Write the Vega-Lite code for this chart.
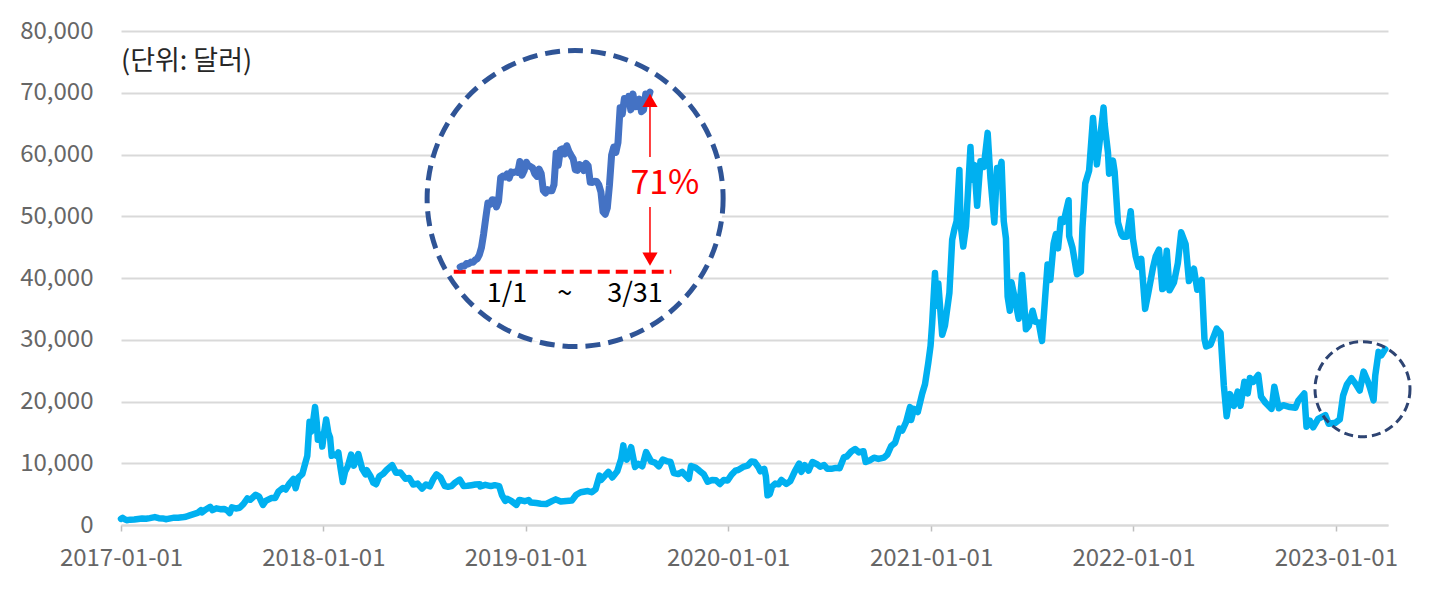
{
  "$schema": "https://vega.github.io/schema/vega-lite/v6.json",
  "width": 1267,
  "height": 494,
  "autosize": "none",
  "padding": {"left": 121, "top": 31, "right": 47, "bottom": 91},
  "background": "white",
  "config": {
    "view": {"stroke": null},
    "font": "Noto Sans CJK KR",
    "axis": {"labelFont": "Noto Sans CJK KR"},
    "text": {"font": "Noto Sans CJK KR"}
  },
  "datasets": {
    "btc": [
      {"date": "2017-01-01", "price": 998}, {"date": "2017-01-04", "price": 1150}, {"date": "2017-01-08", "price": 910},
      {"date": "2017-01-11", "price": 780}, {"date": "2017-01-18", "price": 870}, {"date": "2017-01-25", "price": 895},
      {"date": "2017-02-01", "price": 985}, {"date": "2017-02-08", "price": 1060}, {"date": "2017-02-15", "price": 1010},
      {"date": "2017-02-22", "price": 1120}, {"date": "2017-03-03", "price": 1280}, {"date": "2017-03-10", "price": 1110},
      {"date": "2017-03-17", "price": 1070}, {"date": "2017-03-24", "price": 940}, {"date": "2017-03-31", "price": 1080},
      {"date": "2017-04-07", "price": 1190}, {"date": "2017-04-14", "price": 1180}, {"date": "2017-04-21", "price": 1240},
      {"date": "2017-04-28", "price": 1340}, {"date": "2017-05-05", "price": 1550}, {"date": "2017-05-12", "price": 1750},
      {"date": "2017-05-19", "price": 1960}, {"date": "2017-05-25", "price": 2400}, {"date": "2017-05-27", "price": 2050},
      {"date": "2017-06-03", "price": 2520}, {"date": "2017-06-11", "price": 2950}, {"date": "2017-06-15", "price": 2400},
      {"date": "2017-06-22", "price": 2700}, {"date": "2017-06-29", "price": 2560}, {"date": "2017-07-06", "price": 2600},
      {"date": "2017-07-12", "price": 2330}, {"date": "2017-07-16", "price": 1930}, {"date": "2017-07-20", "price": 2850},
      {"date": "2017-07-27", "price": 2680}, {"date": "2017-08-03", "price": 2800}, {"date": "2017-08-10", "price": 3420},
      {"date": "2017-08-17", "price": 4300}, {"date": "2017-08-22", "price": 4080}, {"date": "2017-09-01", "price": 4900},
      {"date": "2017-09-07", "price": 4600}, {"date": "2017-09-14", "price": 3240}, {"date": "2017-09-19", "price": 3900},
      {"date": "2017-09-29", "price": 4360}, {"date": "2017-10-06", "price": 4370}, {"date": "2017-10-12", "price": 5430},
      {"date": "2017-10-20", "price": 6000}, {"date": "2017-10-25", "price": 5750}, {"date": "2017-11-01", "price": 6750},
      {"date": "2017-11-08", "price": 7450}, {"date": "2017-11-12", "price": 5950}, {"date": "2017-11-17", "price": 7700},
      {"date": "2017-11-24", "price": 8250}, {"date": "2017-11-29", "price": 9900}, {"date": "2017-12-03", "price": 11200},
      {"date": "2017-12-07", "price": 16700}, {"date": "2017-12-10", "price": 15100}, {"date": "2017-12-13", "price": 16500},
      {"date": "2017-12-17", "price": 19100}, {"date": "2017-12-20", "price": 16600}, {"date": "2017-12-22", "price": 13800},
      {"date": "2017-12-25", "price": 13900}, {"date": "2017-12-28", "price": 14600}, {"date": "2017-12-30", "price": 12700},
      {"date": "2018-01-02", "price": 14800}, {"date": "2018-01-06", "price": 17100}, {"date": "2018-01-10", "price": 14900},
      {"date": "2018-01-13", "price": 14200}, {"date": "2018-01-16", "price": 11200}, {"date": "2018-01-19", "price": 11500},
      {"date": "2018-01-25", "price": 11200}, {"date": "2018-01-28", "price": 11750}, {"date": "2018-02-01", "price": 9170},
      {"date": "2018-02-05", "price": 6950}, {"date": "2018-02-09", "price": 8600}, {"date": "2018-02-14", "price": 9500},
      {"date": "2018-02-20", "price": 11400}, {"date": "2018-02-25", "price": 9600}, {"date": "2018-03-05", "price": 11500},
      {"date": "2018-03-12", "price": 9100}, {"date": "2018-03-18", "price": 8200}, {"date": "2018-03-20", "price": 8900},
      {"date": "2018-03-27", "price": 7900}, {"date": "2018-04-01", "price": 6850}, {"date": "2018-04-06", "price": 6600},
      {"date": "2018-04-12", "price": 7900}, {"date": "2018-04-19", "price": 8300}, {"date": "2018-04-25", "price": 8900},
      {"date": "2018-05-05", "price": 9700}, {"date": "2018-05-12", "price": 8450}, {"date": "2018-05-20", "price": 8500},
      {"date": "2018-05-29", "price": 7500}, {"date": "2018-06-05", "price": 7600}, {"date": "2018-06-12", "price": 6550},
      {"date": "2018-06-20", "price": 6700}, {"date": "2018-06-28", "price": 5900}, {"date": "2018-07-05", "price": 6550},
      {"date": "2018-07-12", "price": 6250}, {"date": "2018-07-18", "price": 7400}, {"date": "2018-07-24", "price": 8200},
      {"date": "2018-07-31", "price": 7730}, {"date": "2018-08-08", "price": 6300}, {"date": "2018-08-14", "price": 6200},
      {"date": "2018-08-20", "price": 6300}, {"date": "2018-08-27", "price": 6900}, {"date": "2018-09-04", "price": 7350},
      {"date": "2018-09-11", "price": 6300}, {"date": "2018-09-18", "price": 6350}, {"date": "2018-09-25", "price": 6450},
      {"date": "2018-10-02", "price": 6550}, {"date": "2018-10-10", "price": 6600}, {"date": "2018-10-11", "price": 6250},
      {"date": "2018-10-20", "price": 6500}, {"date": "2018-10-30", "price": 6300}, {"date": "2018-11-06", "price": 6450},
      {"date": "2018-11-14", "price": 6300}, {"date": "2018-11-19", "price": 4850}, {"date": "2018-11-25", "price": 3900},
      {"date": "2018-11-28", "price": 4250}, {"date": "2018-12-05", "price": 3950}, {"date": "2018-12-15", "price": 3250},
      {"date": "2018-12-20", "price": 4050}, {"date": "2018-12-24", "price": 4000}, {"date": "2018-12-30", "price": 3850},
      {"date": "2019-01-06", "price": 4050}, {"date": "2019-01-10", "price": 3650}, {"date": "2019-01-20", "price": 3550},
      {"date": "2019-01-28", "price": 3450}, {"date": "2019-02-07", "price": 3400}, {"date": "2019-02-18", "price": 3900},
      {"date": "2019-02-24", "price": 4150}, {"date": "2019-03-05", "price": 3800}, {"date": "2019-03-15", "price": 3900},
      {"date": "2019-03-25", "price": 3950}, {"date": "2019-04-02", "price": 4900}, {"date": "2019-04-10", "price": 5300},
      {"date": "2019-04-23", "price": 5500}, {"date": "2019-04-30", "price": 5300}, {"date": "2019-05-07", "price": 5800},
      {"date": "2019-05-14", "price": 8000}, {"date": "2019-05-17", "price": 7300}, {"date": "2019-05-30", "price": 8600},
      {"date": "2019-06-06", "price": 7700}, {"date": "2019-06-15", "price": 8700}, {"date": "2019-06-22", "price": 10700},
      {"date": "2019-06-26", "price": 12900}, {"date": "2019-06-28", "price": 11000}, {"date": "2019-07-02", "price": 10600},
      {"date": "2019-07-10", "price": 12600}, {"date": "2019-07-17", "price": 9400}, {"date": "2019-07-23", "price": 9900},
      {"date": "2019-07-30", "price": 9500}, {"date": "2019-08-06", "price": 11800}, {"date": "2019-08-15", "price": 10300},
      {"date": "2019-08-22", "price": 10100}, {"date": "2019-08-29", "price": 9500}, {"date": "2019-09-05", "price": 10600},
      {"date": "2019-09-12", "price": 10350}, {"date": "2019-09-19", "price": 10200}, {"date": "2019-09-25", "price": 8400},
      {"date": "2019-10-03", "price": 8250}, {"date": "2019-10-10", "price": 8600}, {"date": "2019-10-22", "price": 7500},
      {"date": "2019-10-26", "price": 9550}, {"date": "2019-11-03", "price": 9300}, {"date": "2019-11-10", "price": 8800},
      {"date": "2019-11-18", "price": 8200}, {"date": "2019-11-25", "price": 7000}, {"date": "2019-12-03", "price": 7300},
      {"date": "2019-12-10", "price": 7250}, {"date": "2019-12-17", "price": 6650}, {"date": "2019-12-24", "price": 7300},
      {"date": "2019-12-31", "price": 7200}, {"date": "2020-01-07", "price": 8150}, {"date": "2020-01-14", "price": 8800},
      {"date": "2020-01-19", "price": 8900}, {"date": "2020-01-28", "price": 9400}, {"date": "2020-02-05", "price": 9600},
      {"date": "2020-02-12", "price": 10300}, {"date": "2020-02-18", "price": 10200}, {"date": "2020-02-25", "price": 9300},
      {"date": "2020-02-28", "price": 8700}, {"date": "2020-03-06", "price": 9100}, {"date": "2020-03-09", "price": 7900},
      {"date": "2020-03-12", "price": 4800}, {"date": "2020-03-16", "price": 5000}, {"date": "2020-03-20", "price": 6200},
      {"date": "2020-03-26", "price": 6700}, {"date": "2020-04-01", "price": 6600}, {"date": "2020-04-06", "price": 7300},
      {"date": "2020-04-15", "price": 6650}, {"date": "2020-04-22", "price": 7100}, {"date": "2020-04-30", "price": 8650},
      {"date": "2020-05-08", "price": 9950}, {"date": "2020-05-12", "price": 8600}, {"date": "2020-05-18", "price": 9700},
      {"date": "2020-05-25", "price": 8800}, {"date": "2020-06-01", "price": 10200}, {"date": "2020-06-10", "price": 9800},
      {"date": "2020-06-15", "price": 9450}, {"date": "2020-06-22", "price": 9700}, {"date": "2020-06-28", "price": 9100},
      {"date": "2020-07-05", "price": 9100}, {"date": "2020-07-13", "price": 9250}, {"date": "2020-07-20", "price": 9200},
      {"date": "2020-07-28", "price": 11000}, {"date": "2020-08-02", "price": 11100}, {"date": "2020-08-10", "price": 11900},
      {"date": "2020-08-17", "price": 12300}, {"date": "2020-08-24", "price": 11750}, {"date": "2020-09-01", "price": 11950},
      {"date": "2020-09-05", "price": 10200}, {"date": "2020-09-12", "price": 10450}, {"date": "2020-09-20", "price": 10900},
      {"date": "2020-09-28", "price": 10700}, {"date": "2020-10-08", "price": 10900}, {"date": "2020-10-14", "price": 11400},
      {"date": "2020-10-21", "price": 12800}, {"date": "2020-10-28", "price": 13300}, {"date": "2020-11-05", "price": 15600},
      {"date": "2020-11-10", "price": 15300}, {"date": "2020-11-17", "price": 16700}, {"date": "2020-11-24", "price": 19100},
      {"date": "2020-11-26", "price": 17000}, {"date": "2020-12-01", "price": 18800}, {"date": "2020-12-08", "price": 18300},
      {"date": "2020-12-16", "price": 21300}, {"date": "2020-12-21", "price": 22800}, {"date": "2020-12-27", "price": 26300},
      {"date": "2020-12-31", "price": 29000}, {"date": "2021-01-03", "price": 32800}, {"date": "2021-01-08", "price": 40800},
      {"date": "2021-01-11", "price": 35500}, {"date": "2021-01-14", "price": 39100}, {"date": "2021-01-21", "price": 30800},
      {"date": "2021-01-26", "price": 32300}, {"date": "2021-01-29", "price": 34300}, {"date": "2021-02-03", "price": 37600},
      {"date": "2021-02-08", "price": 46200}, {"date": "2021-02-12", "price": 47900}, {"date": "2021-02-16", "price": 49200},
      {"date": "2021-02-21", "price": 57500}, {"date": "2021-02-23", "price": 48800}, {"date": "2021-02-28", "price": 45100},
      {"date": "2021-03-05", "price": 48400}, {"date": "2021-03-13", "price": 61200}, {"date": "2021-03-16", "price": 55900},
      {"date": "2021-03-20", "price": 58300}, {"date": "2021-03-25", "price": 51700}, {"date": "2021-03-31", "price": 58900},
      {"date": "2021-04-06", "price": 58000}, {"date": "2021-04-13", "price": 63500}, {"date": "2021-04-18", "price": 56200},
      {"date": "2021-04-25", "price": 49000}, {"date": "2021-04-30", "price": 57800}, {"date": "2021-05-03", "price": 56600},
      {"date": "2021-05-08", "price": 58800}, {"date": "2021-05-12", "price": 49200}, {"date": "2021-05-16", "price": 46400},
      {"date": "2021-05-19", "price": 37000}, {"date": "2021-05-23", "price": 34700}, {"date": "2021-05-26", "price": 39300},
      {"date": "2021-06-01", "price": 36700}, {"date": "2021-06-08", "price": 33400}, {"date": "2021-06-14", "price": 40500},
      {"date": "2021-06-18", "price": 35800}, {"date": "2021-06-21", "price": 31700}, {"date": "2021-06-26", "price": 32200},
      {"date": "2021-07-03", "price": 34700}, {"date": "2021-07-08", "price": 32900}, {"date": "2021-07-14", "price": 32800},
      {"date": "2021-07-20", "price": 29800}, {"date": "2021-07-26", "price": 37300}, {"date": "2021-07-30", "price": 42200},
      {"date": "2021-08-04", "price": 39700}, {"date": "2021-08-10", "price": 45600}, {"date": "2021-08-14", "price": 47100},
      {"date": "2021-08-18", "price": 44800}, {"date": "2021-08-23", "price": 49500}, {"date": "2021-08-28", "price": 49100},
      {"date": "2021-09-06", "price": 52600}, {"date": "2021-09-07", "price": 46800}, {"date": "2021-09-13", "price": 44900},
      {"date": "2021-09-21", "price": 40600}, {"date": "2021-09-28", "price": 41000}, {"date": "2021-10-01", "price": 48200},
      {"date": "2021-10-06", "price": 55300}, {"date": "2021-10-13", "price": 57400}, {"date": "2021-10-20", "price": 65900},
      {"date": "2021-10-27", "price": 58400}, {"date": "2021-10-31", "price": 61300}, {"date": "2021-11-08", "price": 67600},
      {"date": "2021-11-10", "price": 64900}, {"date": "2021-11-16", "price": 60300}, {"date": "2021-11-18", "price": 56900},
      {"date": "2021-11-25", "price": 59000}, {"date": "2021-11-28", "price": 57200}, {"date": "2021-12-04", "price": 49000},
      {"date": "2021-12-10", "price": 47100}, {"date": "2021-12-13", "price": 46700}, {"date": "2021-12-20", "price": 46700},
      {"date": "2021-12-27", "price": 50800}, {"date": "2021-12-31", "price": 46300}, {"date": "2022-01-05", "price": 43500},
      {"date": "2022-01-10", "price": 41800}, {"date": "2022-01-15", "price": 43100}, {"date": "2022-01-22", "price": 35000},
      {"date": "2022-01-28", "price": 37700}, {"date": "2022-02-05", "price": 41600}, {"date": "2022-02-10", "price": 43500},
      {"date": "2022-02-16", "price": 44600}, {"date": "2022-02-22", "price": 38200}, {"date": "2022-02-24", "price": 38300},
      {"date": "2022-03-02", "price": 44400}, {"date": "2022-03-07", "price": 38000}, {"date": "2022-03-15", "price": 39300},
      {"date": "2022-03-22", "price": 42400}, {"date": "2022-03-28", "price": 47400}, {"date": "2022-04-05", "price": 45500},
      {"date": "2022-04-11", "price": 39500}, {"date": "2022-04-20", "price": 41500}, {"date": "2022-04-26", "price": 38100},
      {"date": "2022-05-04", "price": 39700}, {"date": "2022-05-09", "price": 30100}, {"date": "2022-05-12", "price": 28900},
      {"date": "2022-05-20", "price": 29200}, {"date": "2022-05-31", "price": 31800}, {"date": "2022-06-07", "price": 31100},
      {"date": "2022-06-13", "price": 22500}, {"date": "2022-06-18", "price": 17600}, {"date": "2022-06-24", "price": 21200},
      {"date": "2022-07-01", "price": 19300}, {"date": "2022-07-08", "price": 21600}, {"date": "2022-07-13", "price": 19300},
      {"date": "2022-07-20", "price": 23200}, {"date": "2022-07-26", "price": 21300}, {"date": "2022-07-30", "price": 23800},
      {"date": "2022-08-05", "price": 23200}, {"date": "2022-08-14", "price": 24300}, {"date": "2022-08-19", "price": 20800},
      {"date": "2022-08-27", "price": 19800}, {"date": "2022-09-07", "price": 18800}, {"date": "2022-09-12", "price": 22400},
      {"date": "2022-09-20", "price": 18900}, {"date": "2022-09-28", "price": 19400}, {"date": "2022-10-10", "price": 19100},
      {"date": "2022-10-20", "price": 19000}, {"date": "2022-10-25", "price": 20100}, {"date": "2022-11-05", "price": 21300},
      {"date": "2022-11-09", "price": 15900}, {"date": "2022-11-15", "price": 16900}, {"date": "2022-11-21", "price": 15800},
      {"date": "2022-11-30", "price": 17200}, {"date": "2022-12-13", "price": 17800}, {"date": "2022-12-19", "price": 16400},
      {"date": "2022-12-31", "price": 16550}, {"date": "2023-01-08", "price": 17090}, {"date": "2023-01-14", "price": 20950},
      {"date": "2023-01-21", "price": 22780}, {"date": "2023-01-29", "price": 23770}, {"date": "2023-02-05", "price": 22940},
      {"date": "2023-02-13", "price": 21780}, {"date": "2023-02-20", "price": 24840}, {"date": "2023-02-28", "price": 23150},
      {"date": "2023-03-03", "price": 22360}, {"date": "2023-03-10", "price": 20190}, {"date": "2023-03-13", "price": 24200},
      {"date": "2023-03-19", "price": 28040}, {"date": "2023-03-24", "price": 27480}, {"date": "2023-03-31", "price": 28480}
    ],
    "q1": [
      {"date": "2023-01-01", "price": 16620}, {"date": "2023-01-02", "price": 16680}, {"date": "2023-01-03", "price": 16680},
      {"date": "2023-01-04", "price": 16860}, {"date": "2023-01-05", "price": 16830}, {"date": "2023-01-06", "price": 16950},
      {"date": "2023-01-07", "price": 16940}, {"date": "2023-01-08", "price": 17090}, {"date": "2023-01-09", "price": 17180},
      {"date": "2023-01-10", "price": 17440}, {"date": "2023-01-11", "price": 17940}, {"date": "2023-01-12", "price": 18850},
      {"date": "2023-01-13", "price": 19930}, {"date": "2023-01-14", "price": 20950}, {"date": "2023-01-15", "price": 20870},
      {"date": "2023-01-16", "price": 21170}, {"date": "2023-01-17", "price": 21160}, {"date": "2023-01-18", "price": 20690},
      {"date": "2023-01-19", "price": 21080}, {"date": "2023-01-20", "price": 22680}, {"date": "2023-01-21", "price": 22780},
      {"date": "2023-01-22", "price": 22710}, {"date": "2023-01-23", "price": 22930}, {"date": "2023-01-24", "price": 22640},
      {"date": "2023-01-25", "price": 23060}, {"date": "2023-01-26", "price": 23010}, {"date": "2023-01-27", "price": 23080},
      {"date": "2023-01-28", "price": 23030}, {"date": "2023-01-29", "price": 23770}, {"date": "2023-01-30", "price": 22840},
      {"date": "2023-01-31", "price": 23140}, {"date": "2023-02-01", "price": 23720}, {"date": "2023-02-02", "price": 23490},
      {"date": "2023-02-03", "price": 23430}, {"date": "2023-02-04", "price": 23330}, {"date": "2023-02-05", "price": 22940},
      {"date": "2023-02-06", "price": 22760}, {"date": "2023-02-07", "price": 23260}, {"date": "2023-02-08", "price": 22960},
      {"date": "2023-02-09", "price": 21800}, {"date": "2023-02-10", "price": 21630}, {"date": "2023-02-11", "price": 21860},
      {"date": "2023-02-12", "price": 21790}, {"date": "2023-02-13", "price": 21780}, {"date": "2023-02-14", "price": 22200},
      {"date": "2023-02-15", "price": 24330}, {"date": "2023-02-16", "price": 23520}, {"date": "2023-02-17", "price": 24570},
      {"date": "2023-02-18", "price": 24630}, {"date": "2023-02-19", "price": 24280}, {"date": "2023-02-20", "price": 24840},
      {"date": "2023-02-21", "price": 24450}, {"date": "2023-02-22", "price": 24190}, {"date": "2023-02-23", "price": 23950},
      {"date": "2023-02-24", "price": 23200}, {"date": "2023-02-25", "price": 23170}, {"date": "2023-02-26", "price": 23560},
      {"date": "2023-02-27", "price": 23490}, {"date": "2023-02-28", "price": 23150}, {"date": "2023-03-01", "price": 23650},
      {"date": "2023-03-02", "price": 23480}, {"date": "2023-03-03", "price": 22360}, {"date": "2023-03-04", "price": 22350},
      {"date": "2023-03-05", "price": 22430}, {"date": "2023-03-06", "price": 22410}, {"date": "2023-03-07", "price": 22200},
      {"date": "2023-03-08", "price": 21710}, {"date": "2023-03-09", "price": 20360}, {"date": "2023-03-10", "price": 20190},
      {"date": "2023-03-11", "price": 20630}, {"date": "2023-03-12", "price": 22160}, {"date": "2023-03-13", "price": 24200},
      {"date": "2023-03-14", "price": 24750}, {"date": "2023-03-15", "price": 24380}, {"date": "2023-03-16", "price": 25060},
      {"date": "2023-03-17", "price": 27420}, {"date": "2023-03-18", "price": 26970}, {"date": "2023-03-19", "price": 28040},
      {"date": "2023-03-20", "price": 27770}, {"date": "2023-03-21", "price": 28180}, {"date": "2023-03-22", "price": 27270},
      {"date": "2023-03-23", "price": 28350}, {"date": "2023-03-24", "price": 27480}, {"date": "2023-03-25", "price": 27490},
      {"date": "2023-03-26", "price": 28000}, {"date": "2023-03-27", "price": 27140}, {"date": "2023-03-28", "price": 27270},
      {"date": "2023-03-29", "price": 28350}, {"date": "2023-03-30", "price": 28030}, {"date": "2023-03-31", "price": 28480}
    ],
    "q1_labels": [
      {"date": "2023-01-23", "price": 14790, "label": "1/1"},
      {"date": "2023-02-19", "price": 14790, "label": "~"},
      {"date": "2023-03-24", "price": 14790, "label": "3/31"}
    ]
  },
  "layer": [
    {
      "layer": [
        {
          "data": {"name": "btc"},
          "mark": {"type": "line", "color": "#00B0F0", "strokeWidth": 6.5, "strokeJoin": "round", "strokeCap": "round"},
          "encoding": {
            "x": {
              "field": "date", "type": "temporal",
              "scale": {"type": "utc", "domain": [{"year": 2017, "month": 1, "date": 1, "utc": true}, {"year": 2023, "month": 4, "date": 5, "utc": true}]},
              "axis": {
                "title": null, "format": "%Y-%m-%d", "grid": false, "labelFlush": false, "labelOverlap": false,
                "values": [
                  {"year": 2017, "month": 1, "date": 1, "utc": true}, {"year": 2018, "month": 1, "date": 1, "utc": true},
                  {"year": 2019, "month": 1, "date": 1, "utc": true}, {"year": 2020, "month": 1, "date": 1, "utc": true},
                  {"year": 2021, "month": 1, "date": 1, "utc": true}, {"year": 2022, "month": 1, "date": 1, "utc": true},
                  {"year": 2023, "month": 1, "date": 1, "utc": true}
                ],
                "domainColor": "#D9D9D9", "domainWidth": 2, "tickColor": "#BFBFBF", "tickSize": 6, "tickWidth": 1.5,
                "labelFontSize": 24, "labelColor": "#666666", "labelPadding": 15
              }
            },
            "y": {
              "field": "price", "type": "quantitative",
              "scale": {"domain": [0, 80000], "nice": false},
              "axis": {
                "title": null, "values": [0, 10000, 20000, 30000, 40000, 50000, 60000, 70000, 80000], "format": ",d",
                "grid": true, "gridColor": "#D9D9D9", "gridWidth": 2, "domain": false, "ticks": false,
                "labelFontSize": 24, "labelColor": "#666666", "labelPadding": 28
              }
            }
          }
        },
        {
          "data": {"values": [{"date": "2023-02-18", "price": 22000}]},
          "mark": {"type": "point", "shape": "circle", "filled": false, "stroke": "#2E4472", "strokeWidth": 3, "strokeDash": [9, 5], "size": 9025, "opacity": 1},
          "encoding": {"x": {"field": "date", "type": "temporal"}, "y": {"field": "price", "type": "quantitative"}}
        },
        {
          "data": {"values": [{"date": "2019-03-31", "price": 52870}]},
          "mark": {"type": "point", "shape": "circle", "filled": true, "fill": "white", "stroke": "#2F5496", "strokeWidth": 5, "strokeDash": [15, 8], "size": 87616, "opacity": 1},
          "encoding": {"x": {"field": "date", "type": "temporal"}, "y": {"field": "price", "type": "quantitative"}}
        },
        {
          "data": {"values": [{"date": "2017-01-01", "price": 75000, "label": "(단위: 달러)"}]},
          "mark": {"type": "text", "align": "left", "baseline": "middle", "fontSize": 27, "color": "#262626"},
          "encoding": {"x": {"field": "date", "type": "temporal"}, "y": {"field": "price", "type": "quantitative"}, "text": {"field": "label"}}
        }
      ]
    },
    {
      "encoding": {
        "x": {"type": "temporal", "axis": null, "scale": {"type": "utc", "domain": [{"year": 2022, "month": 7, "date": 26, "utc": true}, {"year": 2024, "month": 3, "date": 11, "utc": true}]}},
        "y": {"type": "quantitative", "axis": null, "scale": {"domain": [-866, 32614], "nice": false, "zero": false}}
      },
      "layer": [
        {
          "data": {"values": [{"start": "2022-12-29", "end": "2023-04-10", "price": 16300}]},
          "mark": {"type": "rule", "color": "#FF0000", "strokeWidth": 4, "strokeDash": [12, 6]},
          "encoding": {"x": {"field": "start", "type": "temporal"}, "x2": {"field": "end"}, "y": {"field": "price", "type": "quantitative"}}
        },
        {
          "data": {"name": "q1"},
          "mark": {"type": "line", "color": "#4472C4", "strokeWidth": 7, "strokeJoin": "round", "strokeCap": "round"},
          "encoding": {"x": {"field": "date", "type": "temporal"}, "y": {"field": "price", "type": "quantitative"}}
        },
        {
          "data": {"values": [{"date": "2023-03-31", "from": 28300, "to": 24075}, {"date": "2023-03-31", "from": 20690, "to": 16960}]},
          "mark": {"type": "rule", "color": "#FF0000", "strokeWidth": 1.5},
          "encoding": {"x": {"field": "date", "type": "temporal"}, "y": {"field": "from", "type": "quantitative"}, "y2": {"field": "to"}}
        },
        {
          "data": {"values": [{"date": "2023-03-31", "price": 27900, "dir": "up"}, {"date": "2023-03-31", "price": 17150, "dir": "down"}]},
          "mark": {"type": "point", "filled": true, "color": "#FF0000", "size": 230, "opacity": 1},
          "encoding": {
            "x": {"field": "date", "type": "temporal"}, "y": {"field": "price", "type": "quantitative"},
            "shape": {"field": "dir", "type": "nominal", "scale": {"domain": ["up", "down"], "range": ["triangle-up", "triangle-down"]}, "legend": null}
          }
        },
        {
          "data": {"values": [{"date": "2023-04-07", "price": 22240, "label": "71%"}]},
          "mark": {"type": "text", "align": "center", "baseline": "middle", "fontSize": 34, "color": "#FF0000"},
          "encoding": {"x": {"field": "date", "type": "temporal"}, "y": {"field": "price", "type": "quantitative"}, "text": {"field": "label"}}
        },
        {
          "data": {"name": "q1_labels"},
          "mark": {"type": "text", "align": "center", "baseline": "middle", "fontSize": 27, "color": "#000000"},
          "encoding": {"x": {"field": "date", "type": "temporal"}, "y": {"field": "price", "type": "quantitative"}, "text": {"field": "label"}}
        }
      ]
    }
  ],
  "resolve": {"scale": {"x": "independent", "y": "independent"}}
}
